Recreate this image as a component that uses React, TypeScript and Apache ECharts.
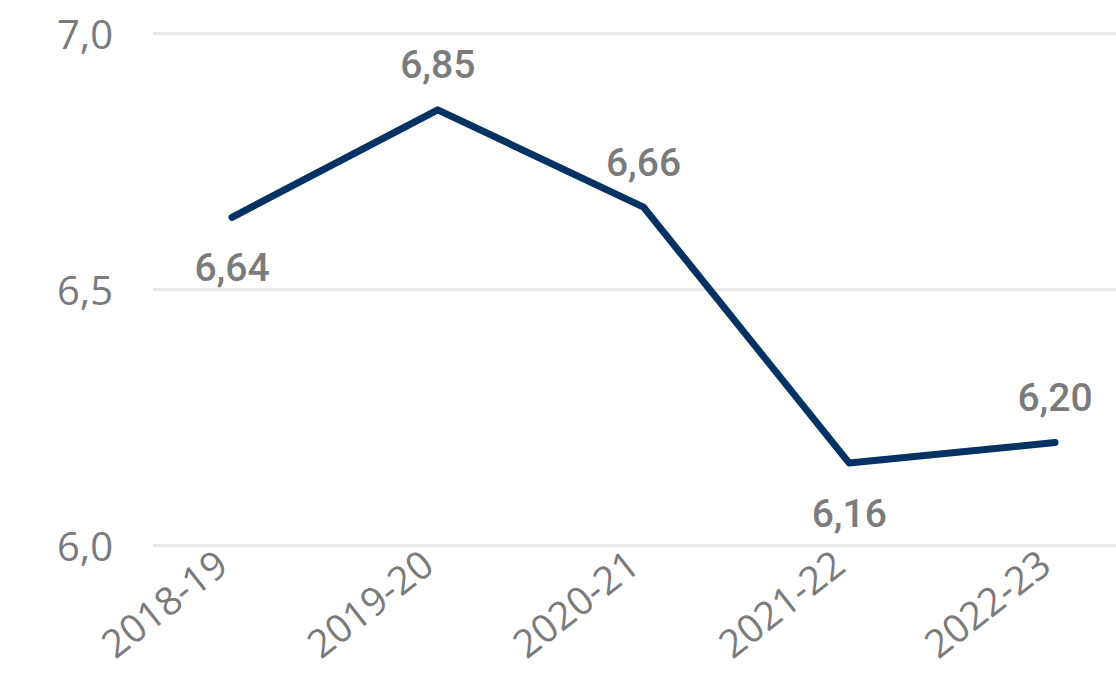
import React, { useEffect, useRef } from "react";
import * as echarts from "echarts";

const categories = ["2018-19", "2019-20", "2020-21", "2021-22", "2022-23"];
const values = [6.64, 6.85, 6.66, 6.16, 6.2];
const labelPositions = ["bottom", "top", "top", "bottom", "top"];
const yTicks = { min: 6, max: 7, interval: 0.5 };

const fmt = (v: number, d: number) => v.toFixed(d).replace(".", ",");

export default function App() {
  const ref = useRef<HTMLDivElement>(null);
  useEffect(() => {
    if (!ref.current) return;
    const chart = echarts.init(ref.current, undefined, { renderer: "svg" });
    const top = 33;
    const bottom = 130;
    const labelBase = {
      show: true,
      fontFamily: "Roboto",
      fontWeight: 500,
      fontSize: 39,
      color: "#7b7b7b",
      formatter: (p: any) => fmt(Number(p.value), 2),
    };
    chart.setOption({
      animation: false,
      backgroundColor: "#ffffff",
      grid: [
        { left: 153, right: 0, top, bottom },
        { left: 232, right: 61, top, bottom },
      ],
      xAxis: [
        { gridIndex: 0, type: "value", show: false, min: 0, max: 1 },
        {
          gridIndex: 1,
          type: "category",
          data: categories,
          boundaryGap: false,
          axisLine: { show: false },
          axisTick: { show: false },
          axisLabel: {
            rotate: 38,
            margin: 4,
            padding: [0, 14, 0, 0],
            fontFamily: "Open Sans",
            fontSize: 39,
            lineHeight: 40,
            color: "#7b7b7b",
          },
        },
      ],
      yAxis: [
        {
          gridIndex: 0,
          type: "value",
          min: yTicks.min,
          max: yTicks.max,
          interval: yTicks.interval,
          axisLine: { show: false },
          axisTick: { show: false },
          splitLine: { lineStyle: { color: "#e8e8e8", width: 3 } },
          axisLabel: {
            margin: 40,
            fontFamily: "Open Sans",
            fontSize: 40,
            color: "#7b7b7b",
            formatter: (v: number) => fmt(v, 1),
          },
        },
        {
          gridIndex: 1,
          type: "value",
          min: yTicks.min,
          max: yTicks.max,
          show: false,
        },
      ],
      series: [
        {
          type: "line",
          xAxisIndex: 1,
          yAxisIndex: 1,
          data: values.map((v, i) => ({
            value: v,
            label: {
              ...labelBase,
              position: labelPositions[i],
              distance: labelPositions[i] === "top" ? 24 : 30,
            },
          })),
          symbol: "circle",
          symbolSize: 2,
          showSymbol: true,
          itemStyle: { color: "#043263" },
          lineStyle: { color: "#043263", width: 7, cap: "round", join: "round" },
          label: labelBase,
        },
      ],
    });
    return () => chart.dispose();
  }, []);
  return (
    <div
      ref={ref}
      style={{ position: "fixed", left: 0, top: 0, width: 1116, height: 675 }}
    />
  );
}
